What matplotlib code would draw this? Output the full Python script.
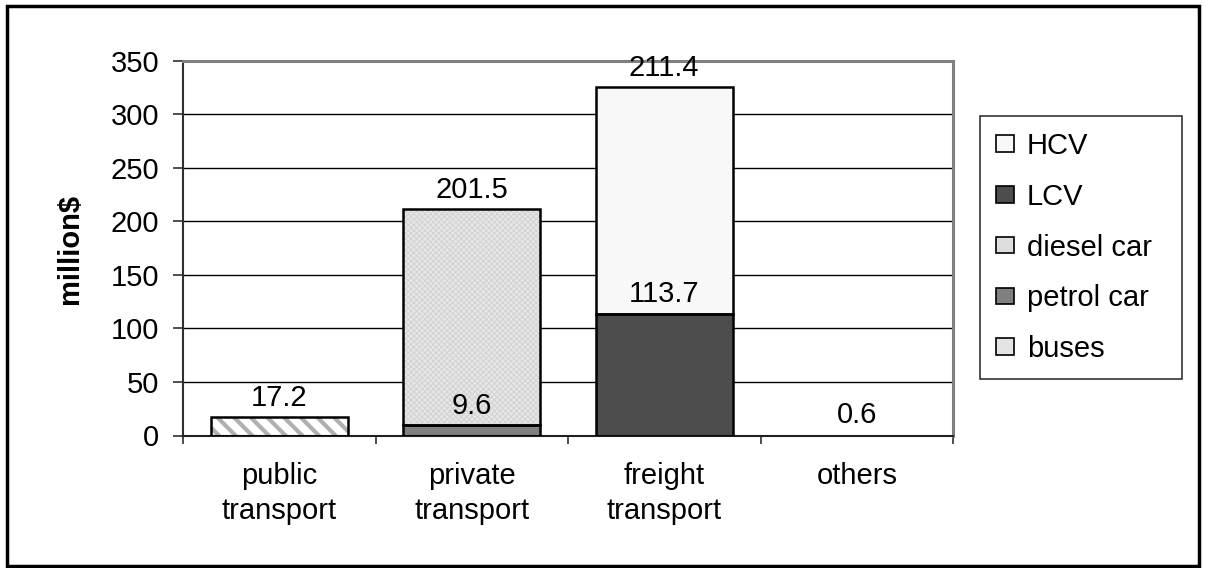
import matplotlib
matplotlib.use("Agg")
import matplotlib.pyplot as plt
from matplotlib.patches import Rectangle, Patch
import numpy as np

plt.rcParams['font.family'] = ['Liberation Sans', 'DejaVu Sans']

categories = ["public\ntransport", "private\ntransport", "freight\ntransport", "others"]
buses = [17.2, 0, 0, 0]
petrol_car = [0, 9.6, 0, 0]
diesel_car = [0, 201.5, 0, 0]
lcv = [0, 0, 113.7, 0]
hcv = [0, 0, 211.4, 0]
others = [0, 0, 0, 0.6]
yticks = [0, 50, 100, 150, 200, 250, 300, 350]

FS = 21

fig = plt.figure(figsize=(12.06, 5.68), dpi=100)
fig.patch.set_facecolor("white")
# outer border
fig.add_artist(Rectangle((7/1206, 1 - 566/568), 1192/1206, 560/568, transform=fig.transFigure,
                         fill=False, edgecolor="black", linewidth=2.5))

ax = fig.add_axes([183/1206, 1 - 435.5/568, 770/1206, 374.8/568])
x = np.arange(len(categories))
w = 0.71

series = [
    ("buses", buses, dict(facecolor="white", hatch="\\\\", hc="#b0b0b0", hlw=3.0, legface="#e4e4e4")),
    ("petrol car", petrol_car, dict(facecolor="#808080", hatch=None, legface="#808080")),
    ("diesel car", diesel_car, dict(facecolor="#e6e6e6", hatch="xxxxxx", hc="#d0d0d0", hlw=0.6, legface="#dedede")),
    ("LCV", lcv, dict(facecolor="#4d4d4d", hatch=None, legface="#4d4d4d")),
    ("HCV", hcv, dict(facecolor="#f8f8f8", hatch=None, legface="#f8f8f8")),
]

bottom = np.zeros(len(categories))
for name, vals, st in series:
    vals = np.array(vals, dtype=float)
    mask = vals > 0
    if st.get("hatch"):
        bars = ax.bar(x[mask], vals[mask], w, bottom=bottom[mask], facecolor=st["facecolor"],
                      edgecolor=st["hc"], linewidth=0, hatch=st["hatch"], zorder=2)
        for b in bars:
            if hasattr(b, "set_hatch_linewidth"):
                b.set_hatch_linewidth(st["hlw"])
    else:
        ax.bar(x[mask], vals[mask], w, bottom=bottom[mask], facecolor=st["facecolor"],
               linewidth=0, zorder=2)
    ax.bar(x[mask], vals[mask], w, bottom=bottom[mask], fill=False, edgecolor="black",
           linewidth=1.8, zorder=3)
    top = bottom + vals
    for xi, v, t in zip(x[mask], vals[mask], top[mask]):
        ax.annotate(f"{v:.1f}", (xi, t), xytext=(0, 4), textcoords="offset points",
                    ha="center", va="bottom", fontsize=FS, zorder=5)
    bottom = top

# others (too small to see)
oth = np.array(others, dtype=float)
m = oth > 0
ax.bar(x[m], oth[m], w, bottom=bottom[m], facecolor="white", linewidth=0, zorder=2)
for xi, v, t in zip(x[m], oth[m], (bottom + oth)[m]):
    ax.annotate(f"{v:.1f}", (xi, t), xytext=(0, 4), textcoords="offset points",
                ha="center", va="bottom", fontsize=FS, zorder=5)

ax.set_xlim(-0.5, len(categories) - 0.5)
ax.set_ylim(0, 350)
ax.set_yticks(yticks)
ax.set_yticklabels([str(t) for t in yticks], fontsize=FS)
for t in yticks[1:-1]:
    ax.axhline(t, color="black", linewidth=1.0, zorder=1)

ax.set_xticks(x)
ax.set_xticklabels(categories, fontsize=FS, linespacing=1.32)
ax.set_xticks(np.arange(-0.5, len(categories)), minor=True)
ax.tick_params(axis="x", which="major", length=0, pad=19)
ax.tick_params(axis="x", which="minor", length=6, width=1.2, color="#303030", direction="out")
ax.tick_params(axis="y", length=7, width=1.2, color="#303030", direction="out", pad=10)

ax.spines["left"].set_color("#303030")
ax.spines["left"].set_linewidth(1.5)
ax.spines["bottom"].set_color("#202020")
ax.spines["bottom"].set_linewidth(1.5)
for s in ("top", "right"):
    ax.spines[s].set_color("#808080")
    ax.spines[s].set_linewidth(2.2)

fig.text(70/1206, 1 - 248.5/568, "million$", rotation=90, ha="center", va="center",
         fontsize=FS, fontweight="bold")

# legend
leg_handles = []
for name, vals, st in reversed(series):
    p = Patch(facecolor=st["legface"], edgecolor="black", linewidth=1.2)
    leg_handles.append((p, name))
leg = fig.legend([h for h, _ in leg_handles], [n for _, n in leg_handles],
                 loc="upper left", bbox_to_anchor=(980/1206, 1 - 375/568, 202/1206, 259/568),
                 mode="expand",
                 fontsize=FS, frameon=True, fancybox=False, edgecolor="black",
                 handlelength=0.6, handleheight=0.5, handletextpad=0.45,
                 labelspacing=0.78, borderpad=0.55, borderaxespad=0)
leg.get_frame().set_linewidth(1.2)
leg._legend_box.align = "left"

fig.savefig("out.png", dpi=100, facecolor="white")
